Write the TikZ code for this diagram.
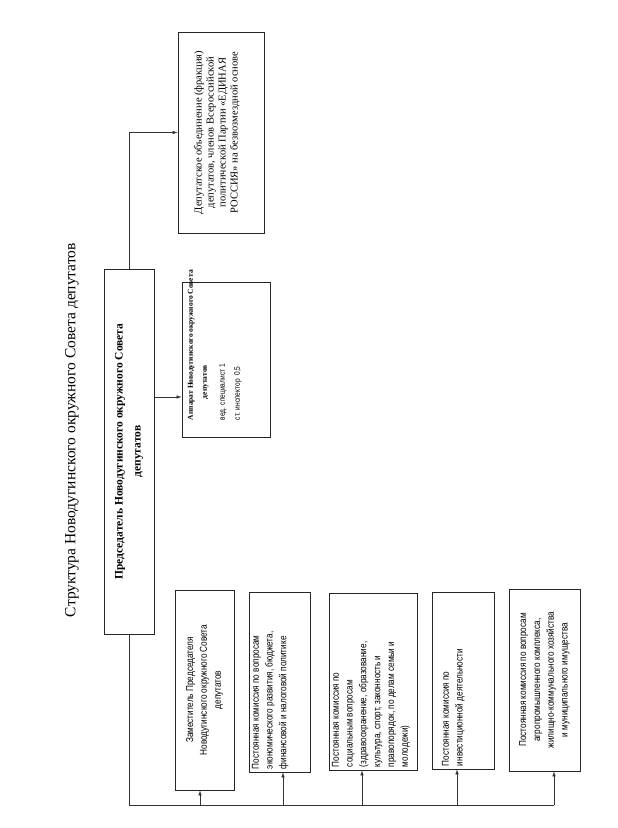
\documentclass[tikz,border=0pt]{standalone}
\usepackage{fontspec}
\setmainfont{Liberation Serif}
\newfontfamily\narrowsans[FakeStretch=0.82]{Liberation Sans}
\usetikzlibrary{arrows.meta}

\begin{document}
\begin{tikzpicture}[x=1pt, y=-1pt,
  every node/.style={font=\narrowsans\fontsize{10}{13.8}\selectfont},
  unit/.style={rectangle, draw=black!85, line width=0.7pt, rotate=90, inner sep=3pt},
  arr/.style={-{Latex[length=5pt, width=3.5pt]}, line width=0.6pt, draw=black!80},
  link/.style={line width=0.6pt, draw=black!80},
]
\useasboundingbox (0,0) rectangle (618,828);

% Titre
\node[rotate=90, font=\fontsize{15.5}{18}\selectfont] (title) at (72,430)
  {Структура Новодугинского окружного Совета депутатов};

% Председатель
\node[unit, font=\bfseries\fontsize{11.5}{18}\selectfont] (chair) at (129,451.5)
  {\parbox[c][44pt][c]{359pt}{\centering Председатель Новодугинского окружного Совета\\ депутатов}};

% Фракция
\node[unit, font=\fontsize{10.5}{12}\selectfont] (frak) at (221,132.5)
  {\parbox[c][80pt][c]{195pt}{\centering Депутатское объединение (фракция)\\
   депутатов, членов Всероссийской\\ политической Партии «ЕДИНАЯ\\
   РОССИЯ» на безвозмездной основе\par\vspace*{8pt}}};

% Аппарат
\node[unit] (apparat) at (226,359.5)
  {\parbox[c][82pt][t]{149pt}{\raggedright\vspace*{3pt}%
   {\rmfamily\bfseries\fontsize{7.5}{14}\selectfont
   \hspace*{14pt}\mbox{Аппарат Новодугинского окружного Совета}\\
   \hspace*{35pt}депутатов\\[3pt]}
   \fontsize{8}{15}\selectfont
   \hspace*{14pt}вед. специалист 1\\
   \hspace*{14pt}ст. инспектор\ \ 0,5}};

% Комиссии
\node[unit] (zam) at (204.5,690)
  {\parbox[c][53pt][c]{194pt}{\centering Заместитель Председателя\\
   Новодугинского окружного Совета\\ депутатов}};
\node[unit] (econ) at (279.5,682)
  {\parbox[c][55pt][t]{174pt}{\raggedright Постоянная комиссия по вопросам\\
   экономического развития, бюджета,\\ финансовой и налоговой политике}};
\node[unit] (soc) at (373,681.5)
  {\parbox[c][82pt][t]{171pt}{\raggedright Постоянная комиссия по\\
   социальным вопросам\\ (здравоохранение, образование,\\
   культура, спорт, законность и\\ правопорядок, по делам семьи и\\ молодежи)}};
\node[unit] (inv) at (463,680.5)
  {\parbox[c][56pt][t]{171pt}{\raggedright\vspace*{7pt}Постоянная комиссия по\\
   инвестиционной деятельности}};
\node[unit] (agro) at (544.5,680)
  {\parbox[c][65pt][c]{176pt}{\centering Постоянная комиссия по вопросам\\
   агропромышленного комплекса,\\ жилищно-коммунального хозяйства\\
   и муниципального имущества}};

% Связи
\coordinate (bus) at (128,805);
\coordinate (midY) at (0,397);
\draw[arr] (chair.east) |- (frak.north);
\draw[arr] (chair.south |- midY) -- (apparat.north |- midY);
\foreach \b/\dx in {zam/-4.5, econ/3.5, soc/-11, inv/-6, agro/9.5} {
  \path ([xshift=\dx pt]\b.west) coordinate (\b-in);
  \draw[arr] (\b-in |- bus) -- (\b-in);
}
\draw[link] (chair.west) |- (agro-in |- bus);

\end{tikzpicture}
\end{document}
